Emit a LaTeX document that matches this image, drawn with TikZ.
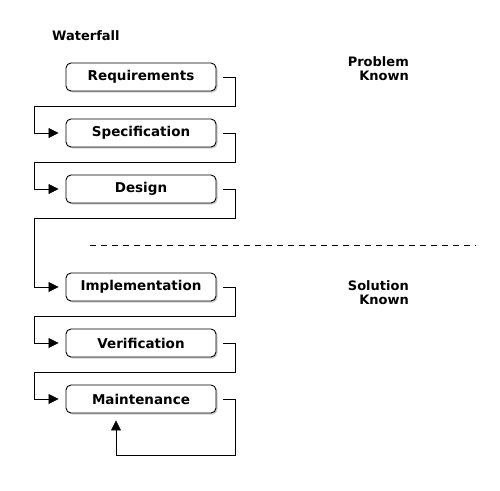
\documentclass[tikz,border=0pt]{standalone}
\usepackage{fontspec}
\setmainfont{DejaVu Sans}
\usetikzlibrary{arrows.meta,positioning,shadows}

\begin{document}
\begin{tikzpicture}[x=1pt,y=1pt,>={Triangle[length=10pt,width=10pt]}]
  \tikzstyle{phase} = [draw=black, line width=0.9pt, fill=white, rectangle, rounded corners=5pt, minimum height=28pt, minimum width=150pt, inner sep=0pt, font={\fontsize{13.5}{15}\selectfont\bfseries}, drop shadow={shadow xshift=1.5pt, shadow yshift=-1.5pt, opacity=0.4}]
  \tikzstyle{phaseEdge} = [black, line width=0.8pt, ->];
  \tikzstyle{sideLabel} = [align=right, anchor=north east, inner sep=0pt, font={\fontsize{13}{14}\selectfont\bfseries}];

  \useasboundingbox (0,0) rectangle (500,-490);

  \node[anchor=west, inner sep=0pt, font={\fontsize{13}{15}\selectfont\bfseries}] (title) at (52,-36) {Waterfall};

  \node[phase] (req)                          at (141,-77) {Requirements};
  \node[phase] (spec)  [below=27.1pt of req]  {Specification};
  \node[phase] (des)   [below=27.1pt of spec] {Design};
  \node[phase] (impl)  [below=69.1pt of des]  {Implementation};
  \node[phase] (ver)   [below=27.1pt of impl] {Verification};
  \node[phase] (maint) [below=27.1pt of ver]  {Maintenance};

  \node[sideLabel] (problem)  at (409,-56)  {Problem\\Known};
  \node[sideLabel] (solution) at (409,-280) {Solution\\Known};

  \coordinate (divL) at (90,-245);
  \coordinate (divR) at (476,-245);
  \draw[line width=0.8pt, dash pattern=on 6pt off 5pt] (divL) -- (divR);

  % step to step
  \foreach \a/\b in {req/spec,spec/des,des/impl,impl/ver,ver/maint}
    \draw[phaseEdge] ([xshift=7pt]\a.east) -- ++(12pt,0)
      |- ([xshift=-31pt,yshift=-15pt]\a.south west)
      |- ([xshift=-7pt]\b.west);

  % maintenance loops back on itself
  \draw[phaseEdge] ([xshift=7pt]maint.east) -- ++(12pt,0)
    |- ([xshift=-25pt,yshift=-42pt]maint.south)
    -- ([xshift=-25pt,yshift=-7pt]maint.south);
\end{tikzpicture}
\end{document}
